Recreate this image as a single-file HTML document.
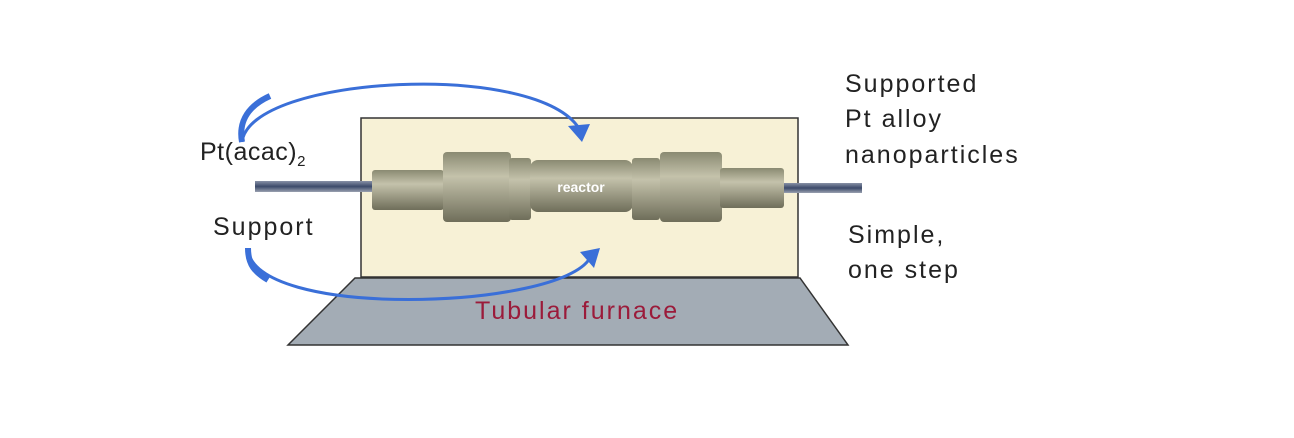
<!DOCTYPE html>
<html><head><style>
body{margin:0;background:#fff;width:1294px;height:438px;overflow:hidden;position:relative;font-family:"Liberation Sans",sans-serif}
.t{position:absolute;font-size:25px;letter-spacing:2px;color:#222;line-height:1}
</style></head><body>
<svg width="1294" height="438" style="position:absolute;left:0;top:0">
<defs>
<linearGradient id="m" x1="0" y1="0" x2="0" y2="1"><stop offset="0" stop-color="#8a8a72"/><stop offset="0.35" stop-color="#c4c2ab"/><stop offset="1" stop-color="#6f6e5a"/></linearGradient>
<linearGradient id="tb" x1="0" y1="0" x2="0" y2="1"><stop offset="0" stop-color="#8891a6"/><stop offset="0.5" stop-color="#3c4a6a"/><stop offset="1" stop-color="#9aa1b0"/></linearGradient>
</defs>
<polygon points="355,278 800,278 848,345 288,345" fill="#a3acb5" stroke="#333" stroke-width="1.5"/>
<rect x="361" y="118" width="437" height="159" fill="#f7f1d6" stroke="#333" stroke-width="1.5"/>
<rect x="255" y="181" width="120" height="11" fill="url(#tb)"/>
<rect x="780" y="183" width="82" height="10" fill="url(#tb)"/>
<rect x="372" y="170" width="72" height="40" fill="url(#m)" rx="3"/>
<rect x="443" y="152" width="68" height="70" fill="url(#m)" rx="4"/>
<rect x="509" y="158" width="22" height="62" fill="url(#m)" rx="3"/>
<rect x="530" y="160" width="103" height="52" fill="url(#m)" rx="8"/>
<rect x="632" y="158" width="28" height="62" fill="url(#m)" rx="3"/>
<rect x="660" y="152" width="62" height="70" fill="url(#m)" rx="4"/>
<rect x="720" y="168" width="64" height="40" fill="url(#m)" rx="3"/>
<text x="581" y="192" font-family="Liberation Sans" font-weight="bold" font-size="14" fill="#fff" text-anchor="middle">reactor</text>
<path d="M242,142 C250,75 540,60 580,130" fill="none" stroke="#3a6fd8" stroke-width="3"/>
<path d="M242,142 C238,120 250,105 270,96" fill="none" stroke="#3a6fd8" stroke-width="6"/>
<polygon points="568,126 590,124 582,142" fill="#3a6fd8"/>
<path d="M248,248 C250,320 560,310 590,258" fill="none" stroke="#3a6fd8" stroke-width="3"/>
<path d="M248,248 C248,265 255,272 268,280" fill="none" stroke="#3a6fd8" stroke-width="6"/>
<polygon points="580,252 600,248 594,268" fill="#3a6fd8"/>
</svg>
<div class="t" style="left:200px;top:140px;letter-spacing:0.5px">Pt(acac)<sub style="font-size:15px">2</sub></div>
<div class="t" style="left:213px;top:215px">Support</div>
<div class="t" style="left:845px;top:72px">Supported</div>
<div class="t" style="left:845px;top:107px">Pt alloy</div>
<div class="t" style="left:845px;top:143px">nanoparticles</div>
<div class="t" style="left:848px;top:223px">Simple,</div>
<div class="t" style="left:848px;top:258px">one step</div>
<div class="t" style="left:475px;top:299px;color:#9b1b3a">Tubular furnace</div>
</body></html>
